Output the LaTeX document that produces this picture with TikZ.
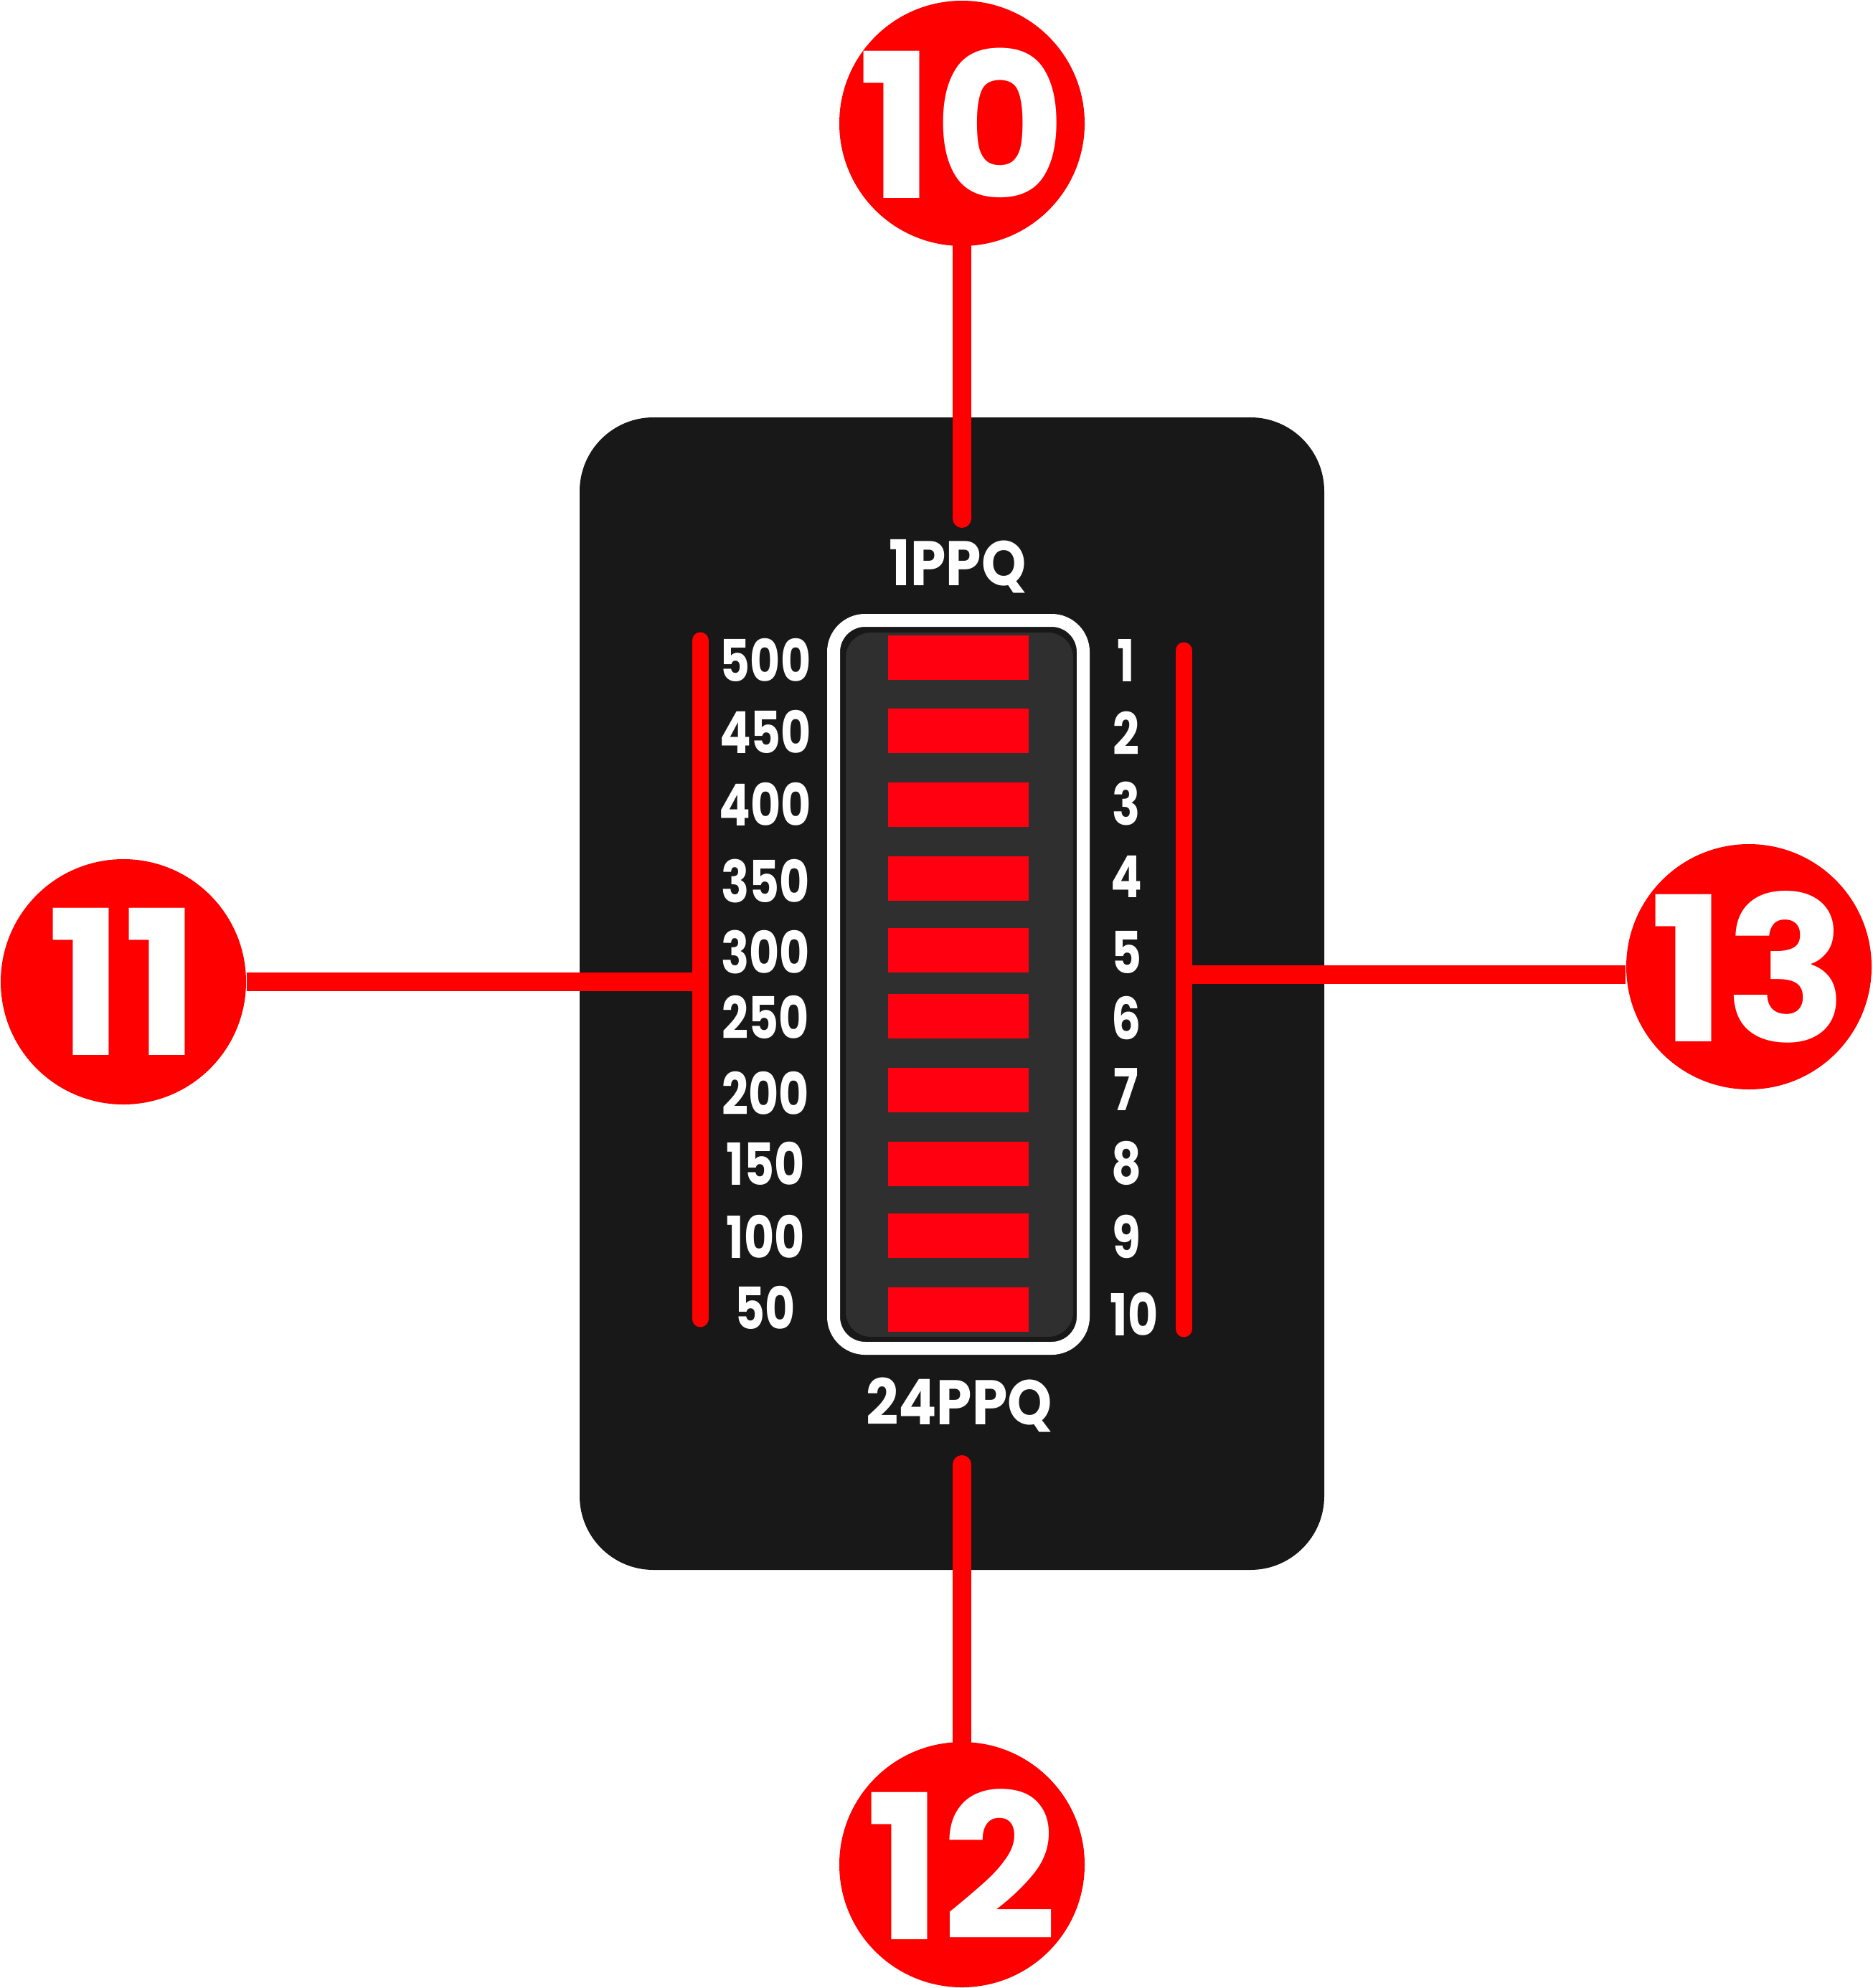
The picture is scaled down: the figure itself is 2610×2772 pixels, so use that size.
\documentclass[tikz,border=0pt]{standalone}
\usepackage{fontspec}
\setmainfont{Poppins}
\newfontfamily\narrowfont{Poppins}[FakeStretch=0.8]
\newfontfamily\modefont{Poppins}[FakeStretch=0.9]
\usetikzlibrary{positioning}
\definecolor{Panel}{HTML}{181818}
\definecolor{Well}{HTML}{2F2F2F}
\definecolor{Led}{HTML}{FF0010}
\definecolor{Mark}{HTML}{FF0000}
\tikzset{
  callout/.style={circle,fill=Mark,minimum size=34.2mm,inner sep=0pt},
  calltext/.style={text=white,inner sep=0pt,font=\fontsize{80}{80}\selectfont\bfseries},
  led/.style={fill=Led,minimum width=19.6mm,minimum height=6.2mm,inner sep=0pt},
  scalelbl/.style={text=white,inner sep=0pt,font=\fontsize{23}{23}\narrowfont\bfseries},
  modelbl/.style={text=white,inner sep=0pt,font=\fontsize{25}{25}\modefont\bfseries},
  leader/.style={draw=Mark,line width=2.6mm},
  bracket/.style={draw=Mark,line width=2.3mm,line cap=round}
}
\begin{document}
\begin{tikzpicture}[x=0.1mm,y=-0.1mm]
  \useasboundingbox (0,0) rectangle (2610,2772);
  % panel and LED window
  \fill[Panel,rounded corners=10.3mm] (808,582) rectangle (1846,2189);
  \draw[white,line width=1.8mm,rounded corners=4.4mm] (1162,865) rectangle (1510,1880);
  \fill[Well,rounded corners=3.5mm] (1179,882) rectangle (1496,1864);
  \foreach \y [count=\i] in {917,1019,1122,1225,1325,1417,1520,1623,1723,1826}
    \node[led] (led\i) at (1336,\y) {};
  % scales
  \foreach \t/\y in {500/920,450/1020,400/1121,350/1229,300/1328,250/1418,200/1524,150/1622,100/1724,50/1823}
    \node[scalelbl] (bpm\t) at (1067,\y) {\t};
  \foreach \t/\y in {1/921,2/1022,3/1121,4/1222,5/1328,6/1420,7/1519,8/1622,9/1724}
    \node[scalelbl] (div\t) at (1570,\y) {\t};
  \node[scalelbl] (div10) at (1581,1832) {10};
  \node[modelbl] (ppq1) at (1335,790) {1PPQ};
  \node[modelbl] (ppq24) at (1337,1959) {24PPQ};
  % brackets
  \draw[bracket] (976,893) -- (976,1839);
  \draw[bracket] (1650,907) -- (1650,1853);
  \coordinate (b11) at (976,1369);
  \coordinate (b13) at (1650,1359);
  \coordinate (t10) at (1341,723);
  \coordinate (t12) at (1341,2042);
  % callouts
  \node[callout,label={[calltext]center:10}] (c10) at (1341,172) {};
  \node[callout,label={[calltext]center:11}] (c11) at (172,1369) {};
  \node[callout,label={[calltext]center:12}] (c12) at (1341,2600) {};
  \node[callout,label={[calltext]center:13}] (c13) at (2438,1348) {};
  \draw[leader,line cap=round] (c10) -- (t10);
  \draw[leader] (c11) -- (b11);
  \draw[leader,line cap=round] (c12) -- (t12);
  \draw[leader] (b13) -- (b13 -| c13.west);
\end{tikzpicture}
\end{document}
